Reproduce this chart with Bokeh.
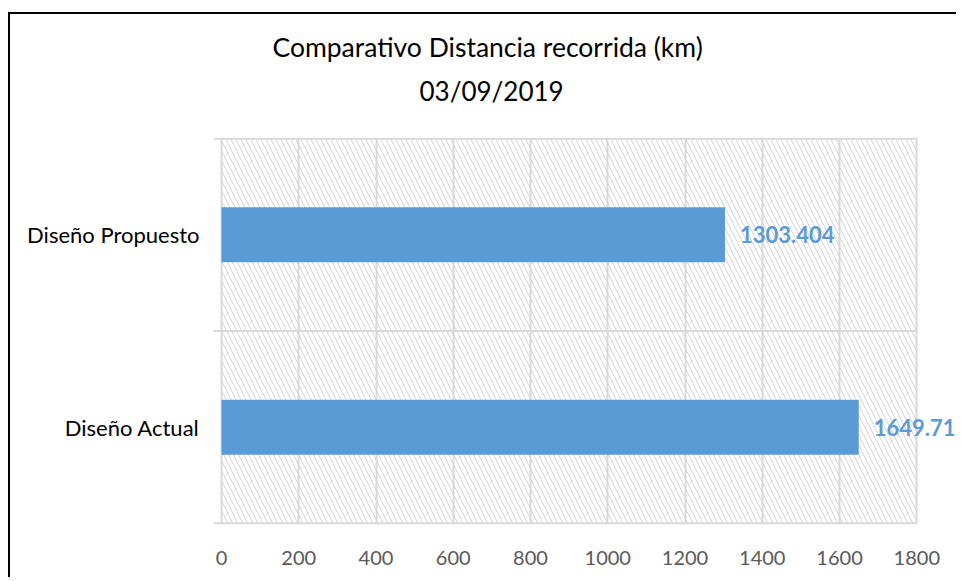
from bokeh.plotting import figure
from bokeh.models import Range1d, FixedTicker, Title, ColumnDataSource
from bokeh.core.properties import value
from bokeh.embed import file_html
from bokeh.resources import INLINE

categories = ["Diseño Actual", "Diseño Propuesto"]
distances = [1649.71, 1303.404]
value_labels = ["1649.71", "1303.404"]
x_ticks = [0, 200, 400, 600, 800, 1000, 1200, 1400, 1600, 1800]
title_line1 = "Comparativo Distancia recorrida (km)"
title_line2 = "03/09/2019"

FONT = "Lato"
BAR = "#5B9BD5"
GRID = "#d9d9d9"
HATCH = "#d4d4d4"
TXT = "#595959"

ypos = [i + 0.5 for i in range(len(categories))]
bounds = list(range(len(categories) + 1))
xmax = x_ticks[-1]
X0, X1 = -20.7, 1908

p = figure(width=948, height=565, output_backend="svg", toolbar_location=None,
           x_range=Range1d(X0, X1), y_range=Range1d(-0.006, len(categories) + 0.006),
           min_border_left=203, min_border_right=0, min_border_top=123, min_border_bottom=55)
p.outline_line_color = None
p.background_fill_color = "white"
p.border_fill_color = "white"

# titles (added nearest-first)
p.add_layout(Title(text=" ", text_font_size="12px"), "above")
p.add_layout(Title(text=title_line2, align="left", offset=206, text_font=FONT,
                   text_font_size="26px", text_font_style="normal", text_color="black"), "above")
p.add_layout(Title(text=title_line1, align="left", offset=59, text_font=FONT,
                   text_font_size="26.5px", text_font_style="normal", text_color="black"), "above")

# hatched background
p.quad(left=[x_ticks[0]], right=[xmax], bottom=[bounds[0]], top=[bounds[-1]],
       fill_alpha=0, line_color=None, hatch_pattern="left_diagonal_line",
       hatch_color=HATCH, hatch_scale=10, hatch_weight=1.0)

# category boundary lines (with short outward ticks)
p.segment(x0=[X0] * len(bounds), x1=[xmax] * len(bounds), y0=bounds, y1=bounds,
          line_color=GRID, line_width=2)

src = ColumnDataSource(dict(y=ypos, x=distances, lab=value_labels, cat=categories))
p.hbar(y="y", right="x", left=0, height=0.2857, source=src, fill_color=BAR, line_color=None)
p.text(x="x", y="y", text="lab", source=src, x_offset=15, text_align="left",
       text_baseline="middle", text_color=BAR, text_font=value(FONT),
       text_font_size="22px", text_font_style="bold")

# grids
p.xgrid.ticker = FixedTicker(ticks=x_ticks)
p.xgrid.grid_line_color = GRID
p.xgrid.grid_line_width = 2
p.ygrid.grid_line_color = None

# x axis
p.xaxis.ticker = FixedTicker(ticks=x_ticks)
p.xaxis.axis_line_color = None
p.xaxis.major_tick_line_color = None
p.xaxis.minor_tick_line_color = None
p.xaxis.major_tick_out = 0
p.xaxis.major_label_standoff = 26
p.xaxis.major_label_text_font = FONT
p.xaxis.major_label_text_font_size = "20px"
p.xaxis.major_label_text_color = TXT

# y axis
p.yaxis.ticker = FixedTicker(ticks=ypos)
p.yaxis.major_label_overrides = {y: c for y, c in zip(ypos, categories)}
p.yaxis.axis_line_color = None
p.yaxis.major_tick_line_color = None
p.yaxis.minor_tick_line_color = None
p.yaxis.major_tick_out = 0
p.yaxis.major_label_standoff = 14
p.yaxis.major_label_text_font = FONT
p.yaxis.major_label_text_font_size = "22px"
p.yaxis.major_label_text_color = "black"

p.styles = {"border-left": "2px solid black", "border-top": "2px solid black",
            "margin-left": "8px", "margin-top": "12px"}

open("out.html", "w").write(file_html(p, INLINE))
